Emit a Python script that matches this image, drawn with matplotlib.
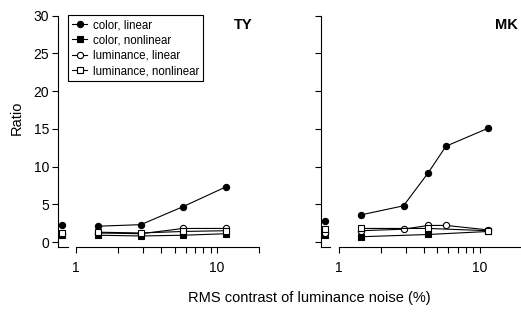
import numpy as np
import matplotlib.pyplot as plt
from matplotlib.ticker import FixedLocator, NullFormatter

plt.rcParams['font.family'] = ['Liberation Sans', 'DejaVu Sans']

# noise contrast levels (%)
noise_TY = [1.44, 2.88, 5.76, 11.52]
noise_MK = [1.44, 2.88, 4.32, 5.76, 11.52]
noise_MK_nl = [1.44, 4.32, 11.52]

# TY ratios
TY_color_lin = [2.1, 2.3, 4.7, 7.3]
TY_color_nl = [0.9, 0.8, 0.9, 1.1]
TY_lum_lin = [1.2, 1.1, 1.8, 1.8]
TY_lum_nl = [1.3, 1.2, 1.4, 1.5]
TY_zero = [2.3, 0.9, 1.1, 1.2]   # color lin, color nl, lum lin, lum nl at 0% noise

# MK ratios
MK_color_lin = [3.6, 4.8, 9.2, 12.7, 15.1]
MK_color_nl = [0.7, 1.0, 1.4]
MK_lum_lin = [1.5, 1.7, 2.2, 2.2, 1.6]
MK_lum_nl = [1.8, 1.8, 1.5]
MK_zero = [2.8, 0.9, 1.2, 1.7]

labels = ["color, linear", "color, nonlinear", "luminance, linear", "luminance, nonlinear"]
styles = [dict(marker='o', mfc='black'), dict(marker='s', mfc='black'),
          dict(marker='o', mfc='white'), dict(marker='s', mfc='white')]

zero_pos = 0.8   # where the 0 % points sit, left of the log axis
x_lo, x_hi = 0.745, 25.0
y_lo = -0.62

fig = plt.figure(figsize=(5.21, 3.2), dpi=100)
W, H = 521.0, 320.0
ax_w = (np.log10(x_hi) - np.log10(x_lo)) * 141 / W
ax_b = (H - 246.7) / H
ax_h = (246.7 - 15.7) / H
ax1 = fig.add_axes([58 / W, ax_b, ax_w, ax_h])
ax2 = fig.add_axes([320.7 / W, ax_b, ax_w, ax_h])

panels = [(ax1, "TY", [noise_TY] * 4, [TY_color_lin, TY_color_nl, TY_lum_lin, TY_lum_nl], TY_zero),
          (ax2, "MK", [noise_MK, noise_MK_nl, noise_MK, noise_MK_nl],
           [MK_color_lin, MK_color_nl, MK_lum_lin, MK_lum_nl], MK_zero)]

for ax, name, xs, ys, zeros in panels:
    for x, y, z, st, lab in zip(xs, ys, zeros, styles, labels):
        ax.plot(x, y, color='black', lw=0.8, ms=4.5, mec='black', mew=0.8,
                label=lab, clip_on=False, **st)
        ax.plot([zero_pos], [z], ls='none', ms=4.5, mec='black', mew=0.8,
                clip_on=False, **st)
    ax.set_xscale('log')
    ax.set_xlim(x_lo, x_hi)
    ax.set_ylim(y_lo, 30)
    for s in ['top', 'right']:
        ax.spines[s].set_visible(False)
    ax.spines['left'].set_bounds(y_lo, 30)
    ax.spines['bottom'].set_bounds(1, 20)
    ax.spines['left'].set_linewidth(0.8)
    ax.spines['bottom'].set_linewidth(0.8)
    # short stub of axis under the 0 % points
    ax.plot([x_lo, 0.873], [y_lo, y_lo], color='black', lw=0.8, clip_on=False)
    ax.xaxis.set_major_locator(FixedLocator([1, 10]))
    ax.xaxis.set_minor_locator(FixedLocator([2, 3, 4, 5, 6, 7, 8, 9, 20]))
    ax.xaxis.set_minor_formatter(NullFormatter())
    ax.set_xticklabels(["1", "10"])
    ax.set_yticks([0, 5, 10, 15, 20, 25, 30])
    ax.tick_params(axis='x', which='both', direction='out', length=4.5, width=0.8,
                   labelsize=10, pad=6)
    ax.tick_params(axis='y', direction='out', length=4.5, width=0.8, labelsize=10, pad=2)
    fig.text((243 if name == "TY" else 506.7) / W, 1 - 25 / H, name,
             fontsize=10.5, fontweight='bold', ha='center', va='center')

ax2.tick_params(axis='y', labelleft=False)

fig.text(17 / W, 1 - 118 / H, "Ratio", rotation=90, fontsize=10.5, ha='center', va='center')
fig.text(309 / W, 1 - 298 / H, "RMS contrast of luminance noise (%)", fontsize=10.5,
         ha='center', va='center')

leg = ax1.legend(loc='upper left', bbox_to_anchor=(68 / W, 1 - 15 / H),
                 bbox_transform=fig.transFigure, borderaxespad=0, fontsize=8.3,
                 fancybox=False, framealpha=1, edgecolor='black', handlelength=1.3,
                 handletextpad=0.5, labelspacing=0.3, borderpad=0.35)
leg.get_frame().set_linewidth(0.8)

fig.savefig("out.png", dpi=100)
